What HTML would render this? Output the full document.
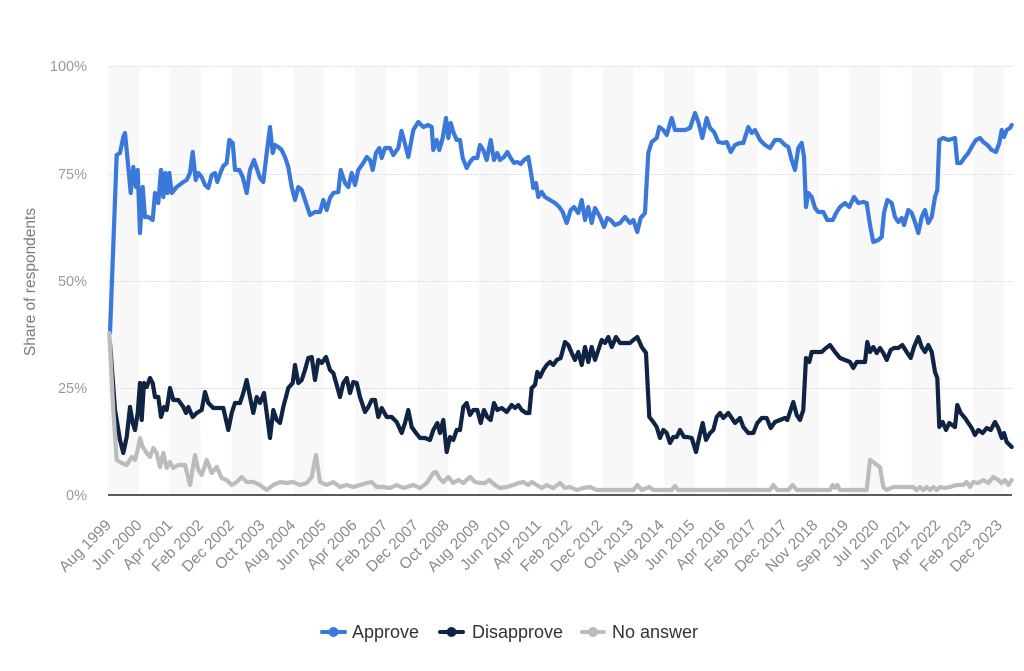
<!DOCTYPE html>
<html><head><meta charset="utf-8"><style>
html,body{margin:0;padding:0;background:#fff;width:1024px;height:671px;overflow:hidden;}
svg{display:block;font-family:"Liberation Sans",Arial,sans-serif;}
</style></head><body>
<svg width="1024" height="671" viewBox="0 0 1024 671" xmlns="http://www.w3.org/2000/svg">
<rect width="1024" height="671" fill="#fff"/>
<g fill="#f8f8f8">
<rect x="108" y="66" width="30.9" height="429"/>
<rect x="169.8" y="66" width="30.9" height="429"/>
<rect x="231.6" y="66" width="30.9" height="429"/>
<rect x="293.4" y="66" width="30.9" height="429"/>
<rect x="355.2" y="66" width="30.9" height="429"/>
<rect x="417" y="66" width="30.9" height="429"/>
<rect x="478.8" y="66" width="30.9" height="429"/>
<rect x="540.6" y="66" width="30.9" height="429"/>
<rect x="602.4" y="66" width="30.9" height="429"/>
<rect x="664.2" y="66" width="30.9" height="429"/>
<rect x="726" y="66" width="30.9" height="429"/>
<rect x="787.8" y="66" width="30.9" height="429"/>
<rect x="849.6" y="66" width="30.9" height="429"/>
<rect x="911.4" y="66" width="30.9" height="429"/>
<rect x="973.2" y="66" width="30.9" height="429"/>
</g>
<g stroke="#d6d6d6" stroke-width="1" stroke-dasharray="1.5,1.5">
<line x1="108" y1="66.5" x2="1012" y2="66.5"/>
<line x1="108" y1="174.5" x2="1012" y2="174.5"/>
<line x1="108" y1="281.5" x2="1012" y2="281.5"/>
<line x1="108" y1="388.5" x2="1012" y2="388.5"/>
</g>
<g font-size="14.5" fill="#9a9a9a" text-anchor="end">
<text x="87" y="71">100%</text>
<text x="87" y="179">75%</text>
<text x="87" y="286">50%</text>
<text x="87" y="393">25%</text>
<text x="87" y="500">0%</text>
</g>
<text transform="translate(35,282) rotate(-90)" text-anchor="middle" font-size="15.5" fill="#7a7a7a">Share of respondents</text>

<g fill="none" stroke-width="4.2" stroke-linejoin="round" stroke-linecap="round">
<polyline stroke="#3a79db" points="110,333 116.7,155 120,153 123.3,137 125,133 128.3,167 130.7,193 133.3,167 136,187 137.7,170 140,233 142.7,187 145,217 148.3,217 152.7,220 155,193 158.3,203 161,170 163.3,197 165.3,173 167.3,193 169.3,173 171.7,193 176.7,187 183.3,182 186.7,180 190,173 192.7,152 195.7,180 198.3,173 201.7,177 205,185 208.3,188 211.7,175 215,173 217.3,182 220.7,172 223.3,166 226.7,163 229.3,140 232.7,143 235,170 239.3,170 242.7,177 246.7,193 250,170 254,160 257.3,170 260,178 263.3,182 266.7,153 270,127 272.7,153 275,145 278.3,147 281.7,150 285,157 288.3,167 291.7,187 295,200 298.3,187 301.7,190 305,200 310,215 315,212 320,212 323.3,200 326.7,210 330,198 333.3,193 338.3,192 340.7,170 345,183 348.3,187 351.7,173 355,185 358.3,170 363.3,163 366.7,157 370,160 372.7,170 376,153 379.3,148 381.7,158 385,148 390,148 393.3,155 398.3,148 401.5,131 404,140 408.3,157 413.3,130 418.3,122 423.3,127 428.3,125 431.7,127 433.3,150 436.7,140 439.3,150 442.7,138 446,118 448.3,138 450.7,123 453.3,132 456.7,140 460,140 462.7,158 466.7,168 470,162 473.3,158 477.3,158 480,145 483.3,150 486.7,160 490.7,140 494,160 497.3,153 500,160 504,157 507.3,152 510.7,158 514,163 517.3,162 520.7,164 524,160 528.3,157 531.7,177 533.3,188 536,183 538.3,197 541.7,192 545,197 550,200 555,203 559.3,207 562.7,212 566.7,223 570.7,210 574,207 578.3,213 581.7,200 585,220 588.3,207 591.7,223 595,208 600,217 604,227 607.3,218 610.7,220 615,225 620,223 625,217 630,223 633.3,220 637.3,232 640.7,218 645,213 648.3,153 651.7,142 656.7,138 659.3,127 663.3,130 666.7,135 671.7,118 675,130 680,130 685,130 690,128 695,113 698.3,122 702.3,138 706.7,118 710,128 714,132 718.3,142 723.3,143 726.7,142 730.7,152 735,145 740,143 743.3,143 748.3,127 751.7,133 755,130 760,140 765,145 770,148 775,140 780,140 785,145 788.3,147 791.7,160 795,170 798.3,148 801.7,143 804,157 806,207 808.3,193 811.7,197 815,208 818.3,212 823.3,212 827.3,220 832.7,220 836.7,212 840,207 845,203 849.3,207 854,197 858.3,203 863.3,202 866.7,203 870,225 873.3,242 878.3,240 881.7,237 884,213 887.3,200 891.7,203 895,217 898.3,222 901.7,218 904,225 908.3,210 911.7,213 915,222 918.3,233 921.7,217 925,210 928.3,223 931.7,217 935,197 937.3,190 939.3,140 943.3,138 948.3,140 955,138 957.3,163 960.7,163 965,157 968.3,153 972.7,145 976,140 980,138 983.3,142 987.3,145 991.7,150 996,152 999.3,143 1001.7,130 1004,137 1006.7,130 1010,128 1011.7,125"/>
<polyline stroke="#0f2443" points="110,343 115,410 120,440 123.3,453 126.7,437 130,407 132.7,423 135,430 137.7,413 140,383 141.7,420 144,383 146.7,387 150,378 152.7,383 155,397 158.3,397 161,417 164,407 166.7,410 170,388 173.3,400 178.3,400 183.3,407 186,413 188.3,407 192.7,417 196.7,413 201.7,410 205,392 208.3,403 213.3,408 218.3,408 223.3,408 228.3,430 231.7,413 235,403 240,403 243.3,393 246.7,380 250,397 253.3,413 256.7,397 260,403 264,393 266.7,413 270,438 273.3,410 276.7,420 280,423 283.3,407 288.3,388 292.7,383 295,365 298.3,383 301.7,380 305,370 308.3,358 311.7,357 315,380 318.3,360 321.7,363 326,357 330,370 333.3,373 336.7,385 340,397 343.3,383 346.7,378 350,393 353.3,382 356.7,383 360,397 365,412 368.3,407 371.7,400 375,400 378.3,417 381.7,408 386.7,417 391.7,417 396.7,422 401.7,433 405,423 408.3,410 411.7,427 416,433 420,438 425,438 430,440 433.3,430 437.3,423 440,433 443.3,420 446.7,452 450,437 453.3,440 456.7,430 460,430 463.3,407 466.7,403 470,415 473.3,410 477.3,410 480.7,423 484,410 487.3,417 490.7,420 494,403 497.3,410 501.7,408 506.7,412 511.7,405 515,408 518.3,405 521.7,410 526,413 529.3,413 531.7,388 535,385 537.3,372 540,377 543.3,370 546.7,365 550,362 553.3,365 556.7,360 560.7,358 565,342 568.3,345 571.7,353 575,360 578.3,352 581.7,365 585,347 588.3,362 591.7,347 595,360 598.3,350 601.7,340 605,343 608.3,337 611.7,347 616,337 620,343 625,343 630,343 633.3,340 637.3,337 641.7,347 646,353 649.3,417 653.3,422 656.7,427 660,438 663.3,430 666.7,433 670,443 673.3,437 676.7,437 680,430 684,437 687.3,437 691.7,438 696,452 699.3,437 702.7,423 706,440 710,433 713.3,430 716.7,417 720,413 723.3,418 728.3,413 731.7,418 735,423 740,418 743.3,427 748.3,433 753.3,433 757.3,423 761.7,418 766.7,418 770.7,428 775,422 780,420 785,418 787.3,420 790,412 793.3,402 796.7,415 800,420 803.3,410 806,358 809.3,362 811.7,352 816.7,352 821.7,352 826,348 830,345 835,352 840,358 845,360 850,362 853.3,368 856.7,362 860,362 865,362 867.3,342 870,352 873.3,347 876.7,353 880,348 883.3,353 886.7,360 890.7,350 894,348 898.3,348 902.3,345 906.7,352 910.7,358 914,347 918.3,337 921.7,347 925,352 928.3,345 931.7,352 935,372 937.3,378 939.3,427 942.7,422 946,430 949.3,423 955,427 957.3,405 960.7,413 965,418 968.3,423 971.7,428 975,435 978.3,430 982.7,433 986.7,428 990.7,430 995,422 998.3,428 1001.7,438 1004,433 1006.7,442 1011.7,447"/>
<polyline stroke="#bcbcbc" points="109.3,333 113.3,410 116.7,460 121.7,463 126.7,465 131.7,457 135,460 137.7,450 140,438 142.7,447 146,452 150,457 153.3,448 156.7,453 160,467 163.3,453 166.7,468 170,462 173.3,468 178.3,465 185,465 190,485 195,455 198.3,470 201.7,475 206.7,460 211.7,473 216.7,467 221.7,478 226.7,480 231.7,485 236.7,482 241.7,477 246.7,482 253.3,482 260,485 266.7,490 273.3,485 280,482 286.7,483 293.3,482 300,485 306.7,483 311.7,477 316,455 320,482 326.7,485 333.3,482 340,487 346.7,485 353.3,487 360,485 366.7,483 371.7,482 376.7,487 383.3,487 390,488 396.7,485 403.3,488 413.3,485 420,488 426.7,483 430,478 433.3,473 436,472 439.3,478 443.3,482 448.3,477 453.3,483 458.3,480 463.3,483 470,477 475,482 480,483 485,483 489.3,480 495,485 500,488 506.7,487 513.3,485 518.3,483 523.3,482 528.3,485 531.7,482 536.7,485 541.7,488 546.7,485 553.3,488 560,483 565,488 570,487 576.7,490 583.3,488 590,487 596.7,490 633.3,490 637.3,485 641.7,490 649.3,487 653.3,490 671.7,490 675,486 678.3,490 770,490 773.3,485 777.3,490 788.3,490 792.7,485 796.7,490 830,490 832.7,485 835,488 837.3,485 840,490 866.7,490 870,460 873.3,462 876.7,465 880,467 883.3,487 886.7,490 893.3,487 913.3,487 916.7,490 920,487 923.3,490 926.7,487 930,490 933.3,487 936.7,490 940,487 945,488 950,487 956.7,485 963.3,485 966.7,482 970,487 973.3,482 978.3,483 983.3,480 988.3,483 993.3,477 998.3,480 1001.7,483 1005,480 1008.3,485 1011.7,480"/>
</g>
<line x1="108" y1="495" x2="1012" y2="495" stroke="#5a5a5a" stroke-width="2"/>

<g font-size="15.5" fill="#8a8a8a" text-anchor="end">
<text transform="translate(112,526) rotate(-45)">Aug 1999</text>
<text transform="translate(142.7,526) rotate(-45)">Jun 2000</text>
<text transform="translate(173.4,526) rotate(-45)">Apr 2001</text>
<text transform="translate(204.2,526) rotate(-45)">Feb 2002</text>
<text transform="translate(234.9,526) rotate(-45)">Dec 2002</text>
<text transform="translate(265.6,526) rotate(-45)">Oct 2003</text>
<text transform="translate(296.3,526) rotate(-45)">Aug 2004</text>
<text transform="translate(327,526) rotate(-45)">Jun 2005</text>
<text transform="translate(357.8,526) rotate(-45)">Apr 2006</text>
<text transform="translate(388.5,526) rotate(-45)">Feb 2007</text>
<text transform="translate(419.2,526) rotate(-45)">Dec 2007</text>
<text transform="translate(449.9,526) rotate(-45)">Oct 2008</text>
<text transform="translate(480.6,526) rotate(-45)">Aug 2009</text>
<text transform="translate(511.4,526) rotate(-45)">Jun 2010</text>
<text transform="translate(542.1,526) rotate(-45)">Apr 2011</text>
<text transform="translate(572.8,526) rotate(-45)">Feb 2012</text>
<text transform="translate(603.5,526) rotate(-45)">Dec 2012</text>
<text transform="translate(634.2,526) rotate(-45)">Oct 2013</text>
<text transform="translate(665,526) rotate(-45)">Aug 2014</text>
<text transform="translate(695.7,526) rotate(-45)">Jun 2015</text>
<text transform="translate(726.4,526) rotate(-45)">Apr 2016</text>
<text transform="translate(757.1,526) rotate(-45)">Feb 2017</text>
<text transform="translate(787.8,526) rotate(-45)">Dec 2017</text>
<text transform="translate(818.6,526) rotate(-45)">Nov 2018</text>
<text transform="translate(849.3,526) rotate(-45)">Sep 2019</text>
<text transform="translate(880,526) rotate(-45)">Jul 2020</text>
<text transform="translate(910.7,526) rotate(-45)">Jun 2021</text>
<text transform="translate(941.4,526) rotate(-45)">Apr 2022</text>
<text transform="translate(972.2,526) rotate(-45)">Feb 2023</text>
<text transform="translate(1003,526) rotate(-45)">Dec 2023</text>
</g>

<g>
<line x1="322" y1="632" x2="345" y2="632" stroke="#3a79db" stroke-width="4" stroke-linecap="round"/>
<circle cx="333.5" cy="632" r="5" fill="#3a79db"/>
<text x="352" y="638" font-size="18" fill="#333">Approve</text>
<line x1="440" y1="632" x2="463" y2="632" stroke="#0f2443" stroke-width="4" stroke-linecap="round"/>
<circle cx="451.5" cy="632" r="5" fill="#0f2443"/>
<text x="472" y="638" font-size="18" fill="#333">Disapprove</text>
<line x1="582" y1="632" x2="604" y2="632" stroke="#bcbcbc" stroke-width="4" stroke-linecap="round"/>
<circle cx="593" cy="632" r="5" fill="#bcbcbc"/>
<text x="612" y="638" font-size="18" fill="#333">No answer</text>
</g>
</svg>
</body></html>
